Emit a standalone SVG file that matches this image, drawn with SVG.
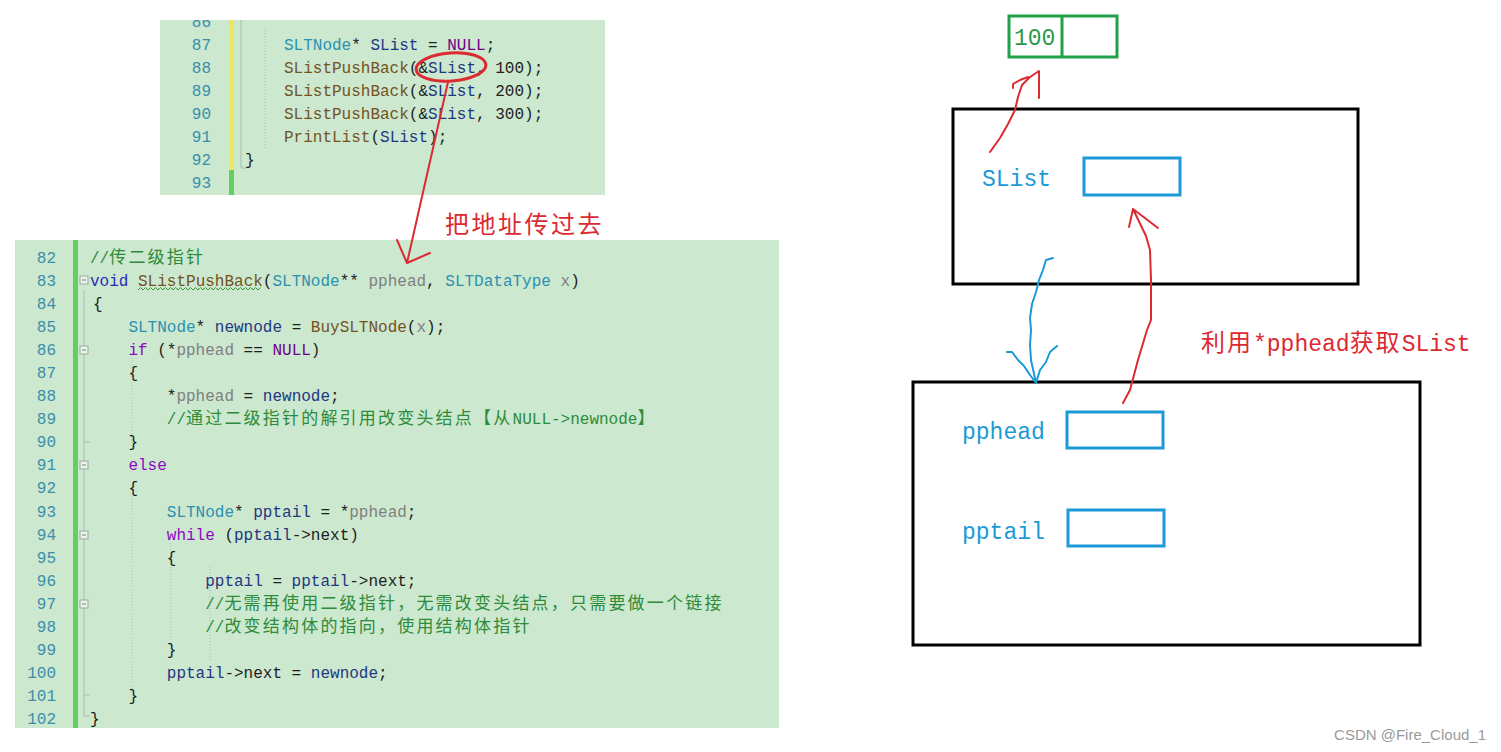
<svg xmlns="http://www.w3.org/2000/svg" width="1501" height="752" viewBox="0 0 1501 752">
<style>
.bg{fill:#cce8cf}
.code{font-family:"Liberation Mono",monospace;font-size:16px;fill:#1e1e1e;white-space:pre}
.ln{font-family:"Liberation Mono",monospace;font-size:16px;fill:#3a8fab;text-anchor:end}
.cj{font-family:"Noto Sans CJK SC",sans-serif;font-size:17px;letter-spacing:2.2px}
.ty{fill:#2b91af}.fn{fill:#74531f}.lv{fill:#1f377f}.pa{fill:#808080}.kw{fill:#8f08c4}.kv{fill:#2a2ab8}.mc{fill:#6f008a}.cm{fill:#2e8b3a}
.guide{stroke:#a9bfae;stroke-width:1;fill:none}
.fold{fill:#e8f4ea;stroke:#9aa89c;stroke-width:1}
.red{stroke:#dc2a32;stroke-width:2;fill:none;stroke-linecap:round;stroke-linejoin:round}
.blu{stroke:#1a9ad6;stroke-width:2;fill:none;stroke-linecap:round;stroke-linejoin:round}
.frame{fill:none;stroke:#000;stroke-width:3}
.cell{fill:none;stroke:#1a9ad6;stroke-width:3}
.lbl{font-family:"Liberation Mono",monospace;font-size:23px;fill:#1a9ad6}
.note{font-family:"Liberation Mono","Noto Sans CJK SC",monospace;font-size:23px;fill:#dc2a32}
.notecj{font-family:"Noto Sans CJK SC",sans-serif;font-size:24px;fill:#dc2a32}
</style>
<defs>
<clipPath id="ctop"><rect x="160" y="20" width="445" height="175"/></clipPath>
<clipPath id="cbot"><rect x="15" y="240" width="764" height="488"/></clipPath>
</defs>
<rect width="1501" height="752" fill="#fff"/>

<g id="code-top" clip-path="url(#ctop)">
<rect class="bg" x="160" y="20" width="445" height="175"/>
<rect x="229" y="20" width="5" height="150" fill="#efe65c"/>
<rect x="229" y="170" width="5" height="25" fill="#62cf62"/>
<path class="guide" d="M241 20V168H247"/>
<path class="guide" d="M265 30V150" stroke-dasharray="1 2"/>
<text class="ln" x="211" y="27">86</text>
<text class="ln" x="211" y="50">87</text>
<text class="ln" x="211" y="73">88</text>
<text class="ln" x="211" y="96">89</text>
<text class="ln" x="211" y="119">90</text>
<text class="ln" x="211" y="142">91</text>
<text class="ln" x="211" y="165">92</text>
<text class="ln" x="211" y="188">93</text>
<text class="code" x="284" y="50"><tspan class="ty">SLTNode</tspan>* <tspan class="lv">SList</tspan> = <tspan class="mc">NULL</tspan>;</text>
<text class="code" x="284" y="73"><tspan class="fn">SListPushBack</tspan>(&amp;<tspan class="lv">SList</tspan>, 100);</text>
<text class="code" x="284" y="96"><tspan class="fn">SListPushBack</tspan>(&amp;<tspan class="lv">SList</tspan>, 200);</text>
<text class="code" x="284" y="119"><tspan class="fn">SListPushBack</tspan>(&amp;<tspan class="lv">SList</tspan>, 300);</text>
<text class="code" x="284" y="142"><tspan class="fn">PrintList</tspan>(<tspan class="lv">SList</tspan>);</text>
<text class="code" x="245" y="165">}</text>
</g>

<g id="code-bottom" clip-path="url(#cbot)">
<rect class="bg" x="15" y="240" width="764" height="488"/>
<rect x="73" y="240" width="5" height="488" fill="#62cf62"/>
<path class="guide" d="M84 290V716M84 442H90M84 695H90M84 716H90"/>
<path class="guide" d="M132 358V446M132 496V700M171 543V655M210 566V660" stroke-dasharray="1 2"/>
<g class="fold">
<rect x="80" y="276" width="8" height="8"/><rect x="80" y="346" width="8" height="8"/><rect x="80" y="461" width="8" height="8"/><rect x="80" y="531" width="8" height="8"/><rect x="80" y="600" width="8" height="8"/>
</g>
<path d="M82 280H86M82 350H86M82 465H86M82 535H86M82 604H86" stroke="#7a867c" stroke-width="1"/>
<path d="M138 290l2.5 -2.5l2.5 2.5l2.5 -2.5l2.5 2.5l2.5 -2.5l2.5 2.5l2.5 -2.5l2.5 2.5l2.5 -2.5l2.5 2.5l2.5 -2.5l2.5 2.5l2.5 -2.5l2.5 2.5l2.5 -2.5l2.5 2.5l2.5 -2.5l2.5 2.5l2.5 -2.5l2.5 2.5l2.5 -2.5l2.5 2.5l2.5 -2.5l2.5 2.5l2.5 -2.5l2.5 2.5l2.5 -2.5l2.5 2.5l2.5 -2.5l2.5 2.5l2.5 -2.5l2.5 2.5l2.5 -2.5l2.5 2.5l2.5 -2.5l2.5 2.5l2.5 -2.5l2.5 2.5l2.5 -2.5l2.5 2.5l2.5 -2.5l2.5 2.5l2.5 -2.5l2.5 2.5l2.5 -2.5l2.5 2.5l2.5 -2.5l2.5 2.5l2.5 -2.5" fill="none" stroke="#3c9a3c" stroke-width="1"/>
<text class="ln" x="56" y="263">82</text>
<text class="ln" x="56" y="286">83</text>
<text class="ln" x="56" y="309">84</text>
<text class="ln" x="56" y="332">85</text>
<text class="ln" x="56" y="355">86</text>
<text class="ln" x="56" y="378">87</text>
<text class="ln" x="56" y="401">88</text>
<text class="ln" x="56" y="424">89</text>
<text class="ln" x="56" y="447">90</text>
<text class="ln" x="56" y="470">91</text>
<text class="ln" x="56" y="493">92</text>
<text class="ln" x="56" y="517">93</text>
<text class="ln" x="56" y="540">94</text>
<text class="ln" x="56" y="563">95</text>
<text class="ln" x="56" y="586">96</text>
<text class="ln" x="56" y="609">97</text>
<text class="ln" x="56" y="632">98</text>
<text class="ln" x="56" y="655">99</text>
<text class="ln" x="56" y="678">100</text>
<text class="ln" x="56" y="701">101</text>
<text class="ln" x="56" y="724">102</text>
<text class="code cm" x="90" y="263">//<tspan class="cj">传二级指针</tspan></text>
<text class="code" x="90" y="286"><tspan class="kv">void</tspan> <tspan class="fn">SListPushBack</tspan>(<tspan class="ty">SLTNode</tspan>** <tspan class="pa">pphead</tspan>, <tspan class="ty">SLTDataType</tspan> <tspan class="pa">x</tspan>)</text>
<text class="code" x="93" y="309">{</text>
<text class="code" x="128.4" y="332"><tspan class="ty">SLTNode</tspan>* <tspan class="lv">newnode</tspan> = <tspan class="fn">BuySLTNode</tspan>(<tspan class="pa">x</tspan>);</text>
<text class="code" x="128.4" y="355"><tspan class="kw">if</tspan> (*<tspan class="pa">pphead</tspan> == <tspan class="mc">NULL</tspan>)</text>
<text class="code" x="128.4" y="378">{</text>
<text class="code" x="166.8" y="401">*<tspan class="pa">pphead</tspan> = <tspan class="lv">newnode</tspan>;</text>
<text class="code cm" x="166.8" y="424">//<tspan class="cj">通过二级指针的解引用改变头结点【从</tspan><tspan x="512.6">NULL-&gt;newnode</tspan><tspan class="cj" x="637.4">】</tspan></text>
<text class="code" x="128.4" y="447">}</text>
<text class="code" x="128.4" y="470"><tspan class="kw">else</tspan></text>
<text class="code" x="128.4" y="493">{</text>
<text class="code" x="166.8" y="517"><tspan class="ty">SLTNode</tspan>* <tspan class="lv">pptail</tspan> = *<tspan class="pa">pphead</tspan>;</text>
<text class="code" x="166.8" y="540"><tspan class="kw">while</tspan> (<tspan class="lv">pptail</tspan>-&gt;next)</text>
<text class="code" x="166.8" y="563">{</text>
<text class="code" x="205.2" y="586"><tspan class="lv">pptail</tspan> = <tspan class="lv">pptail</tspan>-&gt;next;</text>
<text class="code cm" x="205.2" y="609">//<tspan class="cj">无需再使用二级指针，无需改变头结点，只需要做一个链接</tspan></text>
<text class="code cm" x="205.2" y="632">//<tspan class="cj">改变结构体的指向，使用结构体指针</tspan></text>
<text class="code" x="166.8" y="655">}</text>
<text class="code" x="166.8" y="678"><tspan class="lv">pptail</tspan>-&gt;next = <tspan class="lv">newnode</tspan>;</text>
<text class="code" x="128.4" y="701">}</text>
<text class="code" x="90" y="724">}</text>
</g>

<g id="label-pass">
<text class="notecj" x="445" y="233" letter-spacing="2.5">把地址传过去</text>
</g>

<g id="box-100">
<rect x="1009" y="16" width="108" height="41" fill="none" stroke="#22a04a" stroke-width="3"/>
<line x1="1062" y1="16" x2="1062" y2="57" stroke="#22a04a" stroke-width="3"/>
<text x="1014" y="45" font-family="Liberation Mono,monospace" font-size="23" fill="#2a9a4a">100</text>
</g>

<g id="frame-slist">
<rect class="frame" x="953" y="109" width="405" height="175"/>
<text class="lbl" x="982" y="186">SList</text>
<rect class="cell" x="1084" y="158" width="96" height="37"/>
</g>

<g id="frame-func">
<rect class="frame" x="913" y="382" width="507" height="263"/>
<text class="lbl" x="962" y="439">pphead</text>
<rect class="cell" x="1067" y="412" width="96" height="36"/>
<text class="lbl" x="962" y="539">pptail</text>
<rect class="cell" x="1068" y="510" width="96" height="36"/>
</g>

<g id="label-use">
<text class="note" x="1201" y="351"><tspan class="notecj" letter-spacing="2">利用</tspan>*pphead<tspan class="notecj" letter-spacing="2">获取</tspan>SList</text>
</g>

<g id="connectors">
<ellipse cx="451" cy="67" rx="35" ry="14" fill="none" stroke="#dc2a32" stroke-width="3" transform="rotate(-4 451 67)"/>
<path class="red" stroke-width="2.5" d="M448 82L407 263M397 240L407 263L430 253"/>
<path class="red" d="M990 152L1000 138L1008 124L1015 110L1018 97L1022 85L1030 77L1039 71L1039 98M1013 88L1013 84L1020 80L1028 77"/>
<path class="red" d="M1123 403L1130 390L1138 360L1147 330L1151 320L1151 280L1150 250L1146 236L1133 209M1129 227L1133 209L1158 228"/>
<path class="blu" d="M1053 258L1046 260L1043 270L1039 280L1036 292L1032 304L1030 318L1031 330L1030 345L1031 360L1036 383M1007 352L1012 352L1018 360L1024 366L1030 375L1036 383L1040 370L1046 362L1050 352L1057 346"/>
</g>

<g id="watermark">
<text x="1486" y="740" text-anchor="end" font-family="Liberation Sans,sans-serif" font-size="15" fill="#9a9a9a">CSDN @Fire_Cloud_1</text>
</g>
</svg>
